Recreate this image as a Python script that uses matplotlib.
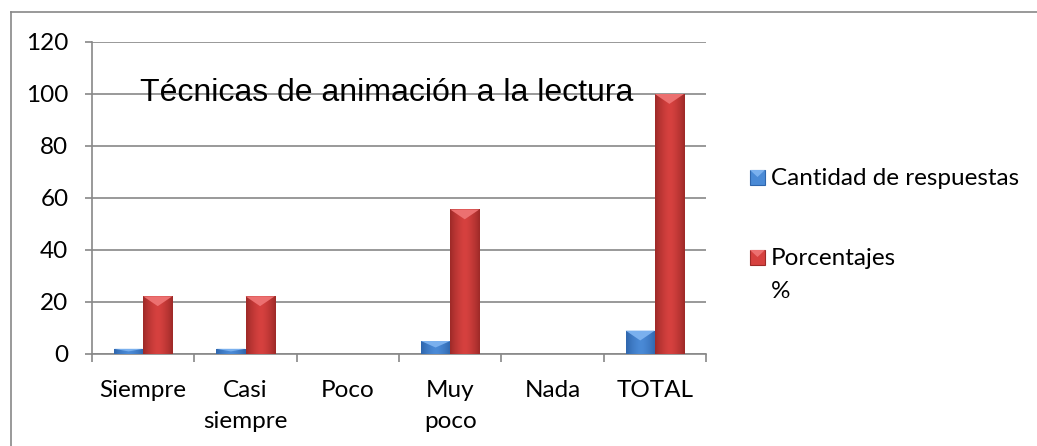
import numpy as np
import matplotlib.pyplot as plt
from matplotlib.patches import Polygon, Rectangle
from matplotlib.lines import Line2D
from matplotlib.colors import to_rgb

categories = ['Siempre', 'Casi\nsiempre', 'Poco', 'Muy\npoco', 'Nada', 'TOTAL']
cantidad = [2, 2, 0, 5, 0, 9]
porcentajes = [22.2, 22.2, 0, 55.6, 0, 100]
series_names = ['Cantidad de respuestas', 'Porcentajes\n%']
title = 'Técnicas de animación a la lectura'
yticks = [0, 20, 40, 60, 80, 100, 120]

# colours: (edge, centre, top highlight)
blue = ('#2f66ad', '#4a8ad6', '#7ab0ee')
red = ('#9e2a28', '#d6413f', '#ec7070')
grey = '#888888'
fs = 17.5

W, H = 1037, 446
fig = plt.figure(figsize=(W / 100, H / 100), dpi=100)
ax = fig.add_axes([92 / W, 1 - 354 / H, (706 - 92) / W, (354 - 42) / H])

x = np.arange(len(categories))
bw = 0.285


def shade(bars, cols):
    edge, mid, top = [np.array(to_rgb(c)) for c in cols]
    t = np.linspace(0, 1, 64)
    k = 1 - np.abs(2 * t - 1) ** 1.5
    grad = edge[None, :] + (mid - edge)[None, :] * k[:, None]
    img = grad[None, :, :]
    for b in bars:
        h = b.get_height()
        if h <= 0:
            continue
        x0, w = b.get_x(), b.get_width()
        im = ax.imshow(img, extent=(x0, x0 + w, 0, h), aspect='auto',
                       interpolation='bilinear', zorder=3)
        im.set_clip_path(b)
        d = min(3.8, h * 0.5)
        tri = Polygon([(x0, h), (x0 + w, h), (x0 + w / 2, h - d)],
                      closed=True, facecolor=top, edgecolor='none', zorder=4)
        ax.add_patch(tri)


b1 = ax.bar(x - bw / 2, cantidad, bw, color=blue[1], zorder=2)
b2 = ax.bar(x + bw / 2, porcentajes, bw, color=red[1], zorder=2)
shade(b1, blue)
shade(b2, red)

ax.set_xlim(-0.5, len(categories) - 0.5)
ax.set_ylim(0, 120)
ax.set_yticks(yticks)
ax.yaxis.grid(True, color=grey, lw=1.2)
ax.set_axisbelow(True)

ax.set_xticks(x)
ax.set_xticklabels(categories, fontfamily='Lato', fontsize=fs, linespacing=1.55)
ax.set_xticks(np.arange(-0.5, len(categories)), minor=True)
ax.tick_params(axis='x', which='major', length=0, pad=19)
ax.tick_params(axis='x', which='minor', length=6, color=grey, width=1.2)
ax.tick_params(axis='y', length=5, color=grey, width=1.2, pad=12,
               labelsize=fs)
for lab in ax.get_yticklabels():
    lab.set_fontfamily('Lato')

for s in ['top', 'right']:
    ax.spines[s].set_visible(False)
for s in ['left', 'bottom']:
    ax.spines[s].set_color(grey)
    ax.spines[s].set_linewidth(1.2)

fig.text(140 / W, 1 - 101 / H, title, fontfamily='Liberation Sans',
         fontsize=23, va='baseline', ha='left', zorder=5)

# legend
leg_y = [185, 265]
for name, cols, yb in zip(series_names, [blue, red], leg_y):
    y0 = 1 - yb / H
    sq = Rectangle((750 / W, y0), 15 / W, 15 / H, transform=fig.transFigure,
                   facecolor=cols[1], edgecolor=cols[0], lw=0.8)
    fig.add_artist(sq)
    tri = Polygon([(750 / W, y0 + 15 / H), (765 / W, y0 + 15 / H),
                   (757.5 / W, y0 + 8 / H)], closed=True,
                  transform=fig.transFigure, facecolor=cols[2], edgecolor='none')
    fig.add_artist(tri)
    for i, part in enumerate(name.split('\n')):
        fig.text(771 / W, 1 - (yb + 33 * i) / H, part, fontfamily='Lato',
                 fontsize=fs, va='baseline', ha='left')

# outer frame (only left and top edges visible)
fig.add_artist(Line2D([11 / W, 11 / W], [0, 1 - 12 / H], color=grey, lw=1.2))
fig.add_artist(Line2D([11 / W, 1], [1 - 12 / H, 1 - 12 / H], color=grey, lw=1.2))

fig.savefig('out.png', dpi=100)
